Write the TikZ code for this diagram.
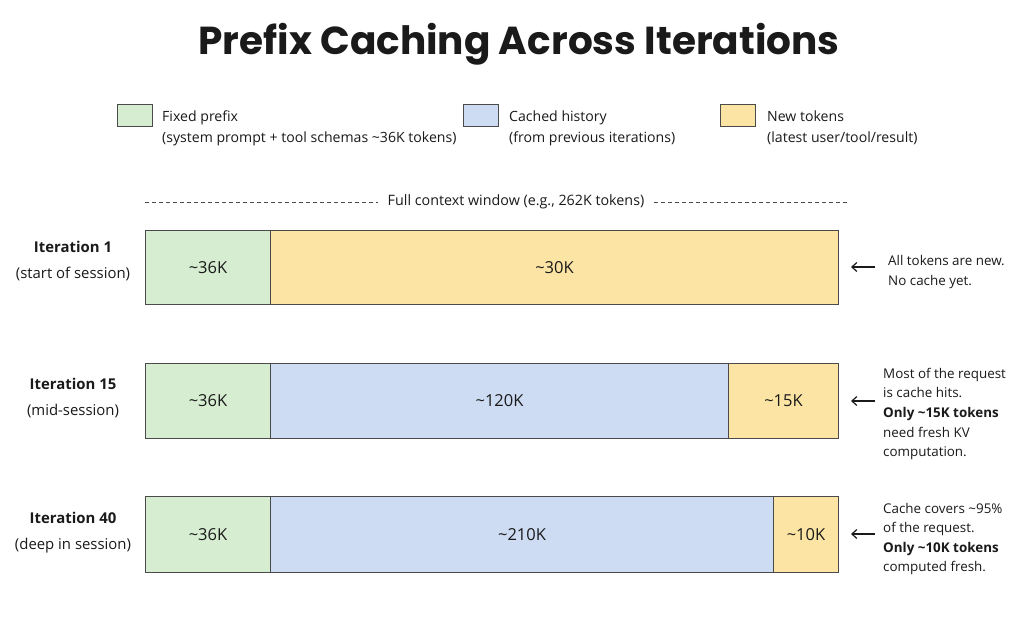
\documentclass[tikz,border=0pt]{standalone}
\usepackage{fontspec}
\setmainfont{Open Sans}
\newfontfamily\titlefont{Poppins}
\usetikzlibrary{arrows.meta}
\definecolor{fixgreen}{HTML}{D6EDD1}
\definecolor{cacheblue}{HTML}{CDDCF2}
\definecolor{newyellow}{HTML}{FBE4A4}
\definecolor{edge}{HTML}{4A4A4A}
\definecolor{ink}{HTML}{1A1A1A}
\begin{document}
\begin{tikzpicture}[x=1pt,y=-1pt,
  seg/.style={draw=edge,line width=1pt,inner sep=0pt,anchor=north west},
  segtext/.style={font=\fontsize{16.5}{20}\selectfont,text=ink},
  legbox/.style={draw=edge,line width=0.9pt,minimum width=35pt,minimum height=22pt,inner sep=0pt,anchor=north west},
  legtext/.style={anchor=north west,align=left,font=\fontsize{14.1}{21.5}\selectfont,text=ink,inner sep=0pt},
  itlabel/.style={align=center,font=\fontsize{14.9}{26}\selectfont,text=ink,inner sep=0pt},
  note/.style={anchor=west,align=left,font=\fontsize{13.4}{19.6}\selectfont,text=ink,inner sep=0pt},
  pointer/.style={-{Straight Barb[length=5pt,width=9pt]},line width=1.2pt,draw=ink}]
\useasboundingbox[fill=white] (0,0) rectangle (1024,618);

% title
\node[font=\titlefont\bfseries\fontsize{39}{44}\selectfont,text=ink] (title) at (519,44) {Prefix Caching Across Iterations};

% legend
\node[legbox,fill=fixgreen] (lg1) at (117,104) {};
\node[legtext] (lt1) at (162,110.5) {Fixed prefix\\(system prompt + tool schemas \textasciitilde36K tokens)};
\node[legbox,fill=cacheblue] (lg2) at (463,104) {};
\node[legtext] (lt2) at (509,110.5) {Cached history\\(from previous iterations)};
\node[legbox,fill=newyellow] (lg3) at (720,104) {};
\node[legtext] (lt3) at (767,110.5) {New tokens\\(latest user/tool/result)};

% context window
\node[font=\fontsize{14.3}{16}\selectfont,text=ink,inner sep=0pt] (ctx) at (516,202) {Full context window (e.g., 262K tokens)};
\coordinate (ctxL) at (145,202);
\coordinate (ctxR) at (847,202);
\draw[dash pattern=on 4pt off 3pt,line width=0.9pt,draw=edge] (ctxL) -- ([xshift=-10pt]ctx.west);
\draw[dash pattern=on 4pt off 3pt,line width=0.9pt,draw=edge] ([xshift=10pt]ctx.east) -- (ctxR);

% Iteration 1
\node[seg,fill=fixgreen,minimum width=125pt,minimum height=74pt] (a1) at (145,230) {};
\node[seg,fill=newyellow,minimum width=568pt,minimum height=74pt] (a2) at (270,230) {};
\node[segtext] (a1t) at (a1.center) {\textasciitilde36K};
\node[segtext] (a2t) at (a2.center) {\textasciitilde30K};
\node[itlabel] (it1) at (73,261) {\textbf{Iteration 1}\\(start of session)};
\node[note,font=\fontsize{13.4}{20.8}\selectfont] (n1) at (888,272) {All tokens are new.\\No cache yet.};
\draw[pointer] (875,267) -- ([xshift=12pt]a2.east |- 0,267);

% Iteration 15
\node[seg,fill=fixgreen,minimum width=125pt,minimum height=75pt] (b1) at (145,363) {};
\node[seg,fill=cacheblue,minimum width=458pt,minimum height=75pt] (b2) at (270,363) {};
\node[seg,fill=newyellow,minimum width=110pt,minimum height=75pt] (b3) at (728,363) {};
\node[segtext] (b1t) at (b1.center) {\textasciitilde36K};
\node[segtext] (b2t) at (b2.center) {\textasciitilde120K};
\node[segtext] (b3t) at (b3.center) {\textasciitilde15K};
\node[itlabel] (it2) at (73,398) {\textbf{Iteration 15}\\(mid-session)};
\node[note] (n2) at (883,414) {Most of the request\\is cache hits.\\\textbf{Only \textasciitilde15K tokens}\\need fresh KV\\computation.};
\draw[pointer] (875,401) -- ([xshift=12pt]b3.east |- 0,401);

% Iteration 40
\node[seg,fill=fixgreen,minimum width=125pt,minimum height=76pt] (c1) at (145,496) {};
\node[seg,fill=cacheblue,minimum width=503pt,minimum height=76pt] (c2) at (270,496) {};
\node[seg,fill=newyellow,minimum width=65pt,minimum height=76pt] (c3) at (773,496) {};
\node[segtext] (c1t) at (c1.center) {\textasciitilde36K};
\node[segtext] (c2t) at (c2.center) {\textasciitilde210K};
\node[segtext] (c3t) at (c3.center) {\textasciitilde10K};
\node[itlabel] (it3) at (73,533) {\textbf{Iteration 40}\\(deep in session)};
\node[note] (n3) at (883,539) {Cache covers \textasciitilde95\%\\of the request.\\\textbf{Only \textasciitilde10K tokens}\\computed fresh.};
\draw[pointer] (875,534) -- ([xshift=12pt]c3.east |- 0,534);
\end{tikzpicture}
\end{document}
